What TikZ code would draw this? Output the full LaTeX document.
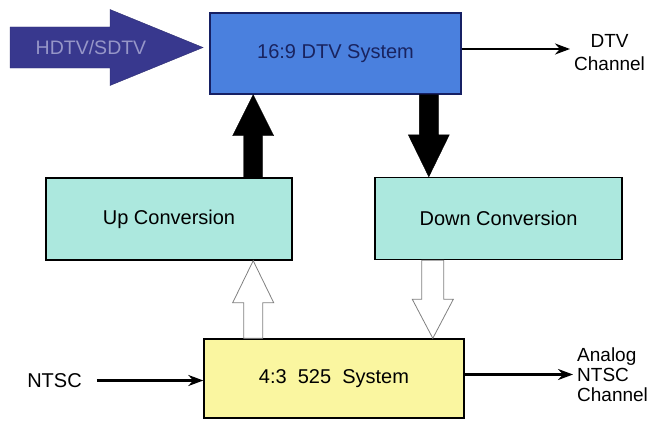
\documentclass[tikz,border=0pt]{standalone}
\usepackage{fontspec}
\setmainfont{Liberation Sans}
\usepackage{tikz}
\usetikzlibrary{arrows.meta}
\usetikzlibrary{calc,positioning}

\definecolor{dtvblue}{RGB}{74,128,222}
\definecolor{dtvnavy}{RGB}{22,32,100}
\definecolor{dtvink}{RGB}{25,35,95}
\definecolor{convcyan}{RGB}{172,232,222}
\definecolor{sdyellow}{RGB}{250,246,160}
\definecolor{hdnavy}{RGB}{56,56,142}
\definecolor{hdgrey}{RGB}{150,150,200}

\newcommand\fatarrow[6]{%
  \path let \p1=($(#3)-(#2)$) in \pgfextra{\pgfmathsetmacro\fatlen{veclen(\x1,\y1)}\pgfmathsetmacro\fatang{atan2(\y1,\x1)}\global\let\fatlen\fatlen\global\let\fatang\fatang};
  \draw[#1,shift={(#2)},rotate=\fatang] (0pt,{-#4/2}) -- ({\fatlen pt-#6},{-#4/2}) -- ({\fatlen pt-#6},{-#5/2}) -- (\fatlen pt,0pt) -- ({\fatlen pt-#6},{#5/2}) -- ({\fatlen pt-#6},{#4/2}) -- (0pt,{#4/2}) -- cycle;
}

\begin{document}
\begin{tikzpicture}[x=1pt,y=1pt, box/.style={draw=black, line width=1.4pt, rectangle, inner sep=0pt, font=\fontsize{20}{23}\selectfont}, dtvbox/.style={box, fill=dtvblue, draw=dtvnavy, text=dtvink, minimum width=251pt, minimum height=81pt}, convbox/.style={box, fill=convcyan, minimum width=246pt, minimum height=82pt}, sdbox/.style={box, fill=sdyellow, minimum width=260pt, minimum height=79pt}, lab/.style={font=\fontsize{20}{20}\selectfont, inner sep=1pt}, feed/.style={line width=2.4pt, -{Stealth[length=15pt,width=11pt]}}, solidfat/.style={fill=black, draw=black}, hollowfat/.style={fill=white, draw=gray, line width=0.8pt}, bigfat/.style={fill=hdnavy, draw=hdnavy!80!black}]
		\useasboundingbox (0,0) rectangle (650,-420);

		\node[dtvbox] (dtv) at (335.5,-53.5) {16:9 DTV System};
		\node[convbox] (up) at (169,-219) {Up Conversion};
		\node[convbox, minimum width=247pt] (down) at (498.5,-218.5) {Down Conversion};
		\node[sdbox] (sd) at (334,-378.5) {4:3\ \ 525\ \ System};

		\coordinate (upcol) at ([xshift=-39.5pt]up.north east);
		\coordinate (downcol) at ([xshift=54.5pt]down.north west);
		\coordinate (lowcol) at ([xshift=58.5pt]down.south west);
		\coordinate (hdtail) at (10,-47.5);
		\coordinate (hdtip) at (203,-47.5);

		\fatarrow{bigfat}{hdtail}{hdtip}{41pt}{76pt}{93pt}
		\node[lab, text=hdgrey, font=\fontsize{19.5}{20}\selectfont] (hdlab) at (91,-48) {HDTV/SDTV};

		\fatarrow{solidfat}{upcol}{dtv.south -| upcol}{19pt}{41pt}{41pt}
		\fatarrow{solidfat}{dtv.south -| downcol}{downcol}{19pt}{41pt}{42pt}
		\fatarrow{hollowfat}{sd.north -| upcol}{up.south -| upcol}{19pt}{41pt}{42pt}
		\fatarrow{hollowfat}{down.south -| lowcol}{sd.north -| lowcol}{22pt}{41pt}{39pt}

		\node[lab, align=center, font=\fontsize{19}{23}\selectfont, anchor=west] (dtvlab) at (573,-53) {DTV\\Channel};
		\draw[feed, shorten >=3pt] ([yshift=4.5pt]dtv.east) -- ([yshift=4.5pt]dtv.east -| dtvlab.west);

		\node[lab] (ntsc) at (54.5,-380.5) {NTSC};
		\draw[feed, shorten <=14pt] (ntsc.east) -- (sd.west |- ntsc.east);

		\node[lab, align=left, anchor=west, font=\fontsize{19}{20}\selectfont] (anlab) at (576,-375) {Analog\\NTSC\\Channel};
		\draw[feed, shorten >=3pt] ([yshift=4pt]sd.east) -- ([yshift=4pt]sd.east -| anlab.west);
	\end{tikzpicture}
\end{document}
